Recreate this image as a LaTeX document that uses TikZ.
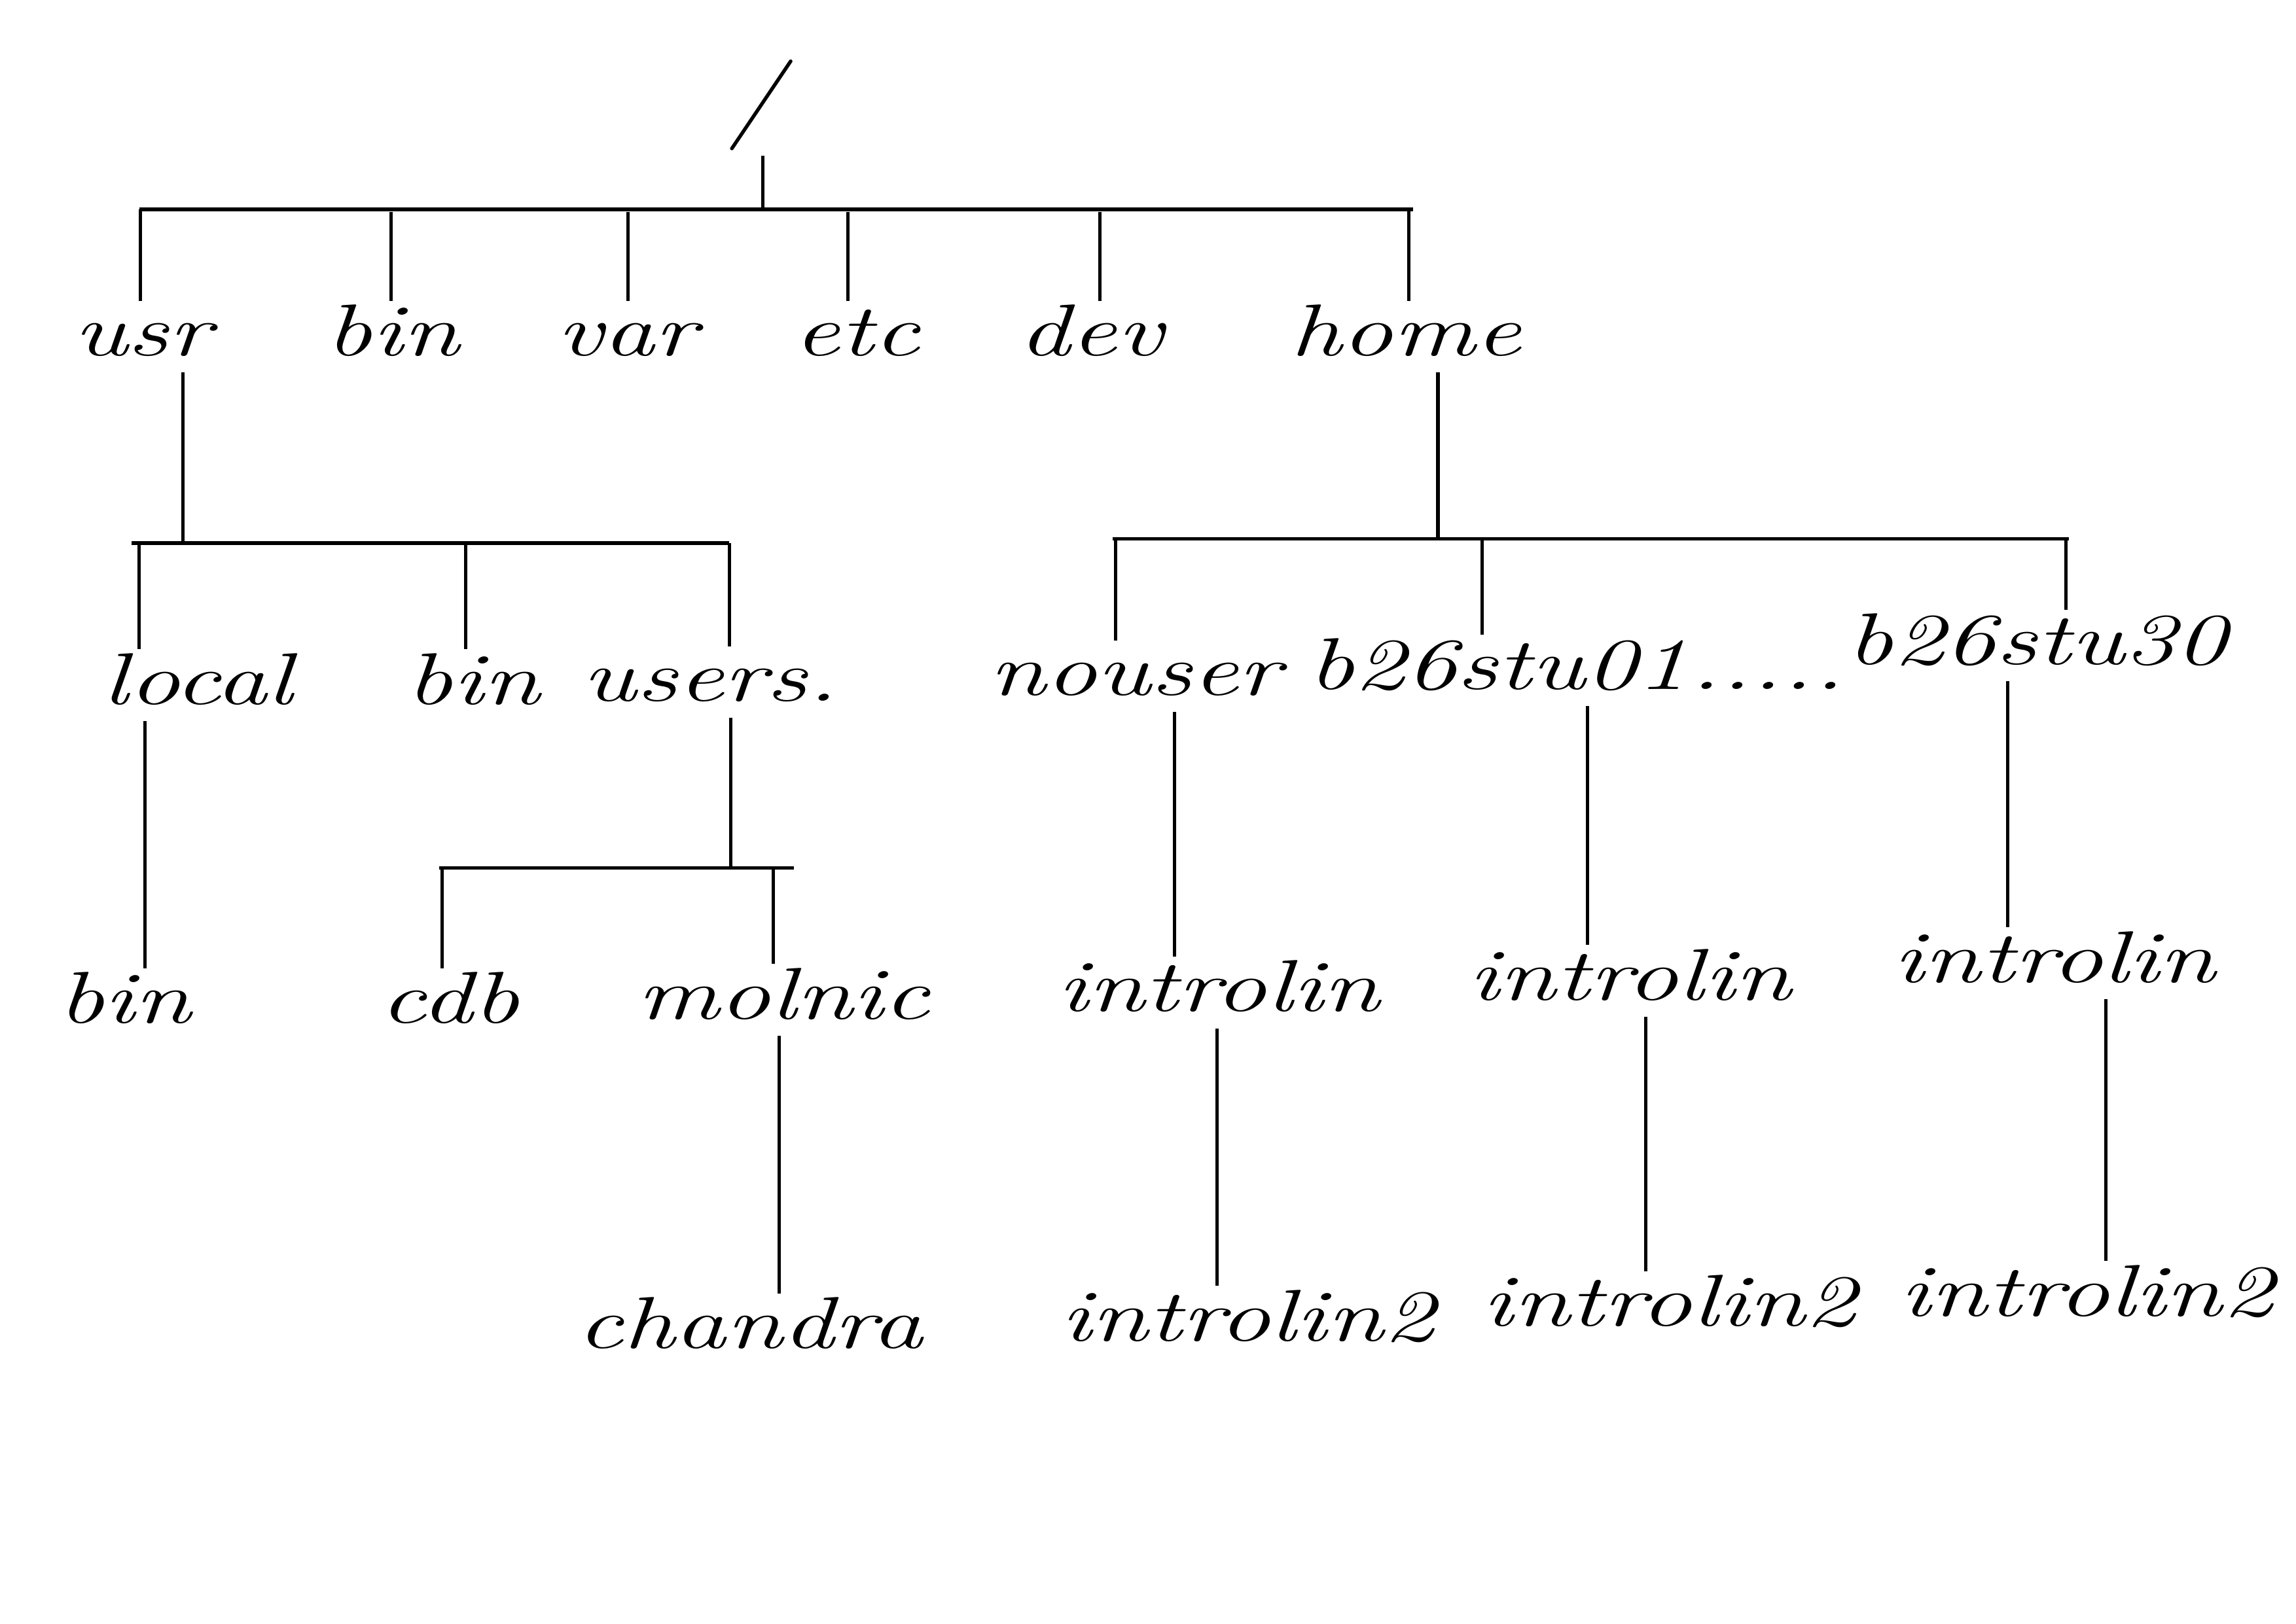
\documentclass[tikz,border=0pt]{standalone}
\newcommand{\hw}[1]{\scalebox{1.4}[1.0]{#1}}
\begin{document}
\begin{tikzpicture}[x=0.018941cm,y=-0.018941cm,
  lbl/.style={font=\fontsize{27}{30}\selectfont\itshape, text height=18pt, text depth=4pt, inner sep=2pt},
  ln/.style={line width=1.25pt}]
\useasboundingbox (0,0) rectangle (1568,1109);
% root
\node[font=\fontsize{38}{38}\selectfont, inner sep=0, rotate=-15] (root) at (520,72) {/};
% level 1
\node[lbl] (usr)  at (97,230)  {\hw{usr}};
\node[lbl] (bin1) at (268,230) {\hw{bin}};
\node[lbl] (var)  at (428,230) {\hw{var}};
\node[lbl] (etc)  at (585,230) {\hw{etc}};
\node[lbl] (dev)  at (745,230) {\hw{dev}};
\node[lbl] (home) at (960,230) {\hw{home}};
% level 2
\node[lbl] (local) at (135,468) {\hw{local}};
\node[lbl] (bin2)  at (323,468) {\hw{bin}};
\node[lbl] (users) at (485,466) {\hw{users.}};
\node[lbl] (nouser) at (775,462) {\hw{nouser}};
\node[lbl] (s01) at (1023,458) {\hw{b26stu01}};
\node[lbl] (dots) at (1207,458) {\hw{.....}};
\node[lbl] (s30) at (1391,441) {\hw{b26stu30}};
% level 3
\node[lbl] (bin3) at (85,686) {\hw{bin}};
\node[lbl] (cdb) at (307,686) {\hw{cdb}};
\node[lbl] (molnic) at (535,683) {\hw{molnic}};
\node[lbl] (intA) at (832,678) {\hw{introlin}};
\node[lbl] (intB) at (1113,670) {\hw{introlin}};
\node[lbl] (intC) at (1403,658) {\hw{introlin}};
% level 4
\node[lbl] (chandra) at (512,908) {\hw{chandra}};
\node[lbl] (intA2) at (852,903) {\hw{introlin2}};
\node[lbl] (intB2) at (1140,893) {\hw{introlin2}};
\node[lbl] (intC2) at (1425,886) {\hw{introlin2}};
% junction coordinates
\coordinate (j0) at (521,143);
\coordinate (b0L) at (95,143);
\coordinate (b0R) at (965,143);
\coordinate (c-usr) at (96,143);
\coordinate (c-bin1) at (267,145);
\coordinate (c-var) at (429,145);
\coordinate (c-etc) at (579,145);
\coordinate (c-dev) at (751,145);
\coordinate (c-home) at (962,143);
\coordinate (j1) at (125,371);
\coordinate (b1L) at (90,371);
\coordinate (b1R) at (498,371);
\coordinate (c-local) at (95,371);
\coordinate (c-bin2) at (318,371);
\coordinate (c-users) at (498,371);
\coordinate (j2) at (499,593);
\coordinate (b2L) at (300,593);
\coordinate (b2R) at (542,593);
\coordinate (c-cdb) at (302,593);
\coordinate (c-molnic) at (528,593);
\coordinate (j3) at (982,368);
\coordinate (b3L) at (760,368);
\coordinate (b3R) at (1413,368);
\coordinate (c-nouser) at (762,368);
\coordinate (c-s01) at (1012,368);
\coordinate (c-s30) at (1411,368);
\coordinate (x-local) at (99,0);
\coordinate (x-molnic) at (532,0);
\coordinate (x-nouser) at (802,0);
\coordinate (x-s01) at (1084,0);
\coordinate (x-s30) at (1371,0);
\coordinate (x-intA) at (831,0);
\coordinate (x-intB) at (1124,0);
\coordinate (x-intC) at (1438,0);
% connectors
\begin{scope}[ln]
\draw (root.south -| j0) -- (j0);
\draw (b0L) -- (b0R);
\foreach \n in {usr,bin1,var,etc,dev,home}
  \draw (c-\n) -- (c-\n |- \n.north);
\draw (usr.south -| j1) -- (j1);
\draw (b1L) -- (b1R);
\foreach \n in {local,bin2,users}
  \draw (c-\n) -- (c-\n |- \n.north);
\draw (local.south -| x-local) -- (x-local |- bin3.north);
\draw (users.south -| j2) -- (j2);
\draw (b2L) -- (b2R);
\foreach \n in {cdb,molnic}
  \draw (c-\n) -- (c-\n |- \n.north);
\draw (molnic.south -| x-molnic) -- (x-molnic |- chandra.north);
\draw (home.south -| j3) -- (j3);
\draw (b3L) -- (b3R);
\foreach \n in {nouser,s01,s30}
  \draw (c-\n) -- (c-\n |- \n.north);
\draw (nouser.south -| x-nouser) -- (x-nouser |- intA.north);
\draw (s01.south -| x-s01) -- (x-s01 |- intB.north);
\draw (s30.south -| x-s30) -- (x-s30 |- intC.north);
\draw (intA.south -| x-intA) -- (x-intA |- intA2.north);
\draw (intB.south -| x-intB) -- (x-intB |- intB2.north);
\draw (intC.south -| x-intC) -- (x-intC |- intC2.north);
\end{scope}
\end{tikzpicture}
\end{document}
